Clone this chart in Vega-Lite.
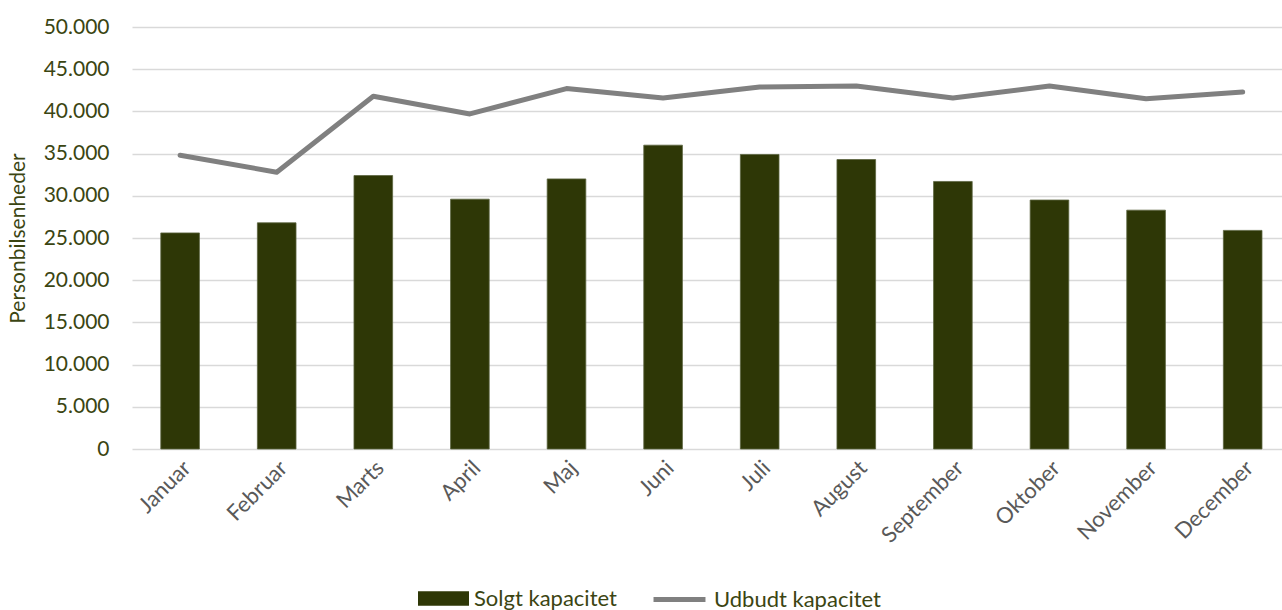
{
  "$schema": "https://vega.github.io/schema/vega-lite/v6.json",
  "autosize": {"type": "none"},
  "width": 1150,
  "height": 422,
  "padding": {"left": 132, "top": 27, "right": 0, "bottom": 161},
  "config": {
    "view": {"stroke": null},
    "font": "Lato",
    "axis": {"labelFont": "Lato", "titleFont": "Lato"},
    "legend": {"labelFont": "Lato", "labelLimit": 400}
  },
  "data": {
    "values": [
      {"month": "Januar", "solgt": 25600, "udbudt": 34800},
      {"month": "Februar", "solgt": 26800, "udbudt": 32800},
      {"month": "Marts", "solgt": 32400, "udbudt": 41800},
      {"month": "April", "solgt": 29600, "udbudt": 39700},
      {"month": "Maj", "solgt": 32000, "udbudt": 42700},
      {"month": "Juni", "solgt": 36000, "udbudt": 41600},
      {"month": "Juli", "solgt": 34900, "udbudt": 42900},
      {"month": "August", "solgt": 34300, "udbudt": 43000},
      {"month": "September", "solgt": 31700, "udbudt": 41600},
      {"month": "Oktober", "solgt": 29500, "udbudt": 43000},
      {"month": "November", "solgt": 28300, "udbudt": 41500},
      {"month": "December", "solgt": 25900, "udbudt": 42300}
    ]
  },
  "encoding": {
    "x": {
      "field": "month",
      "type": "nominal",
      "sort": null,
      "scale": {"paddingInner": 0.6, "paddingOuter": 0.2525, "align": 0.59},
      "axis": {
        "title": null,
        "labelAngle": -45,
        "labelFontSize": 22,
        "labelColor": "#595959",
        "labelPadding": 8,
        "ticks": false,
        "domain": false,
        "grid": false
      }
    }
  },
  "layer": [
    {
      "mark": {"type": "bar", "color": "#2e3706", "stroke": "#5c6440", "strokeWidth": 0.8},
      "encoding": {
        "y": {
          "field": "solgt",
          "type": "quantitative",
          "scale": {"domain": [0, 50000]},
          "axis": {
            "title": "Personbilsenheder",
            "titleFontSize": 21,
            "titleFontWeight": "normal",
            "titleColor": "#3b4512",
            "titleX": -114,
            "titleY": 211,
            "titleAngle": -90,
            "titleAlign": "center",
            "titleBaseline": "middle",
            "values": [0, 5000, 10000, 15000, 20000, 25000, 30000, 35000, 40000, 45000, 50000],
            "labelExpr": "replace(format(datum.value, ',d'), ',', '.')",
            "labelFontSize": 21,
            "labelColor": "#3b4512",
            "labelPadding": 23,
            "ticks": false,
            "domain": false,
            "grid": true,
            "gridColor": "#d9d9d9",
            "gridWidth": 1.5
          }
        },
        "color": {
          "datum": "Solgt kapacitet",
          "scale": {"range": ["#2e3706"]},
          "legend": {
            "title": null,
            "orient": "none",
            "legendX": 286,
            "legendY": 546,
            "padding": 0,
            "symbolType": "M-1,-0.28H1V0.28H-1Z",
            "symbolSize": 2601,
            "symbolStrokeWidth": 0,
            "labelFontSize": 22,
            "labelColor": "#3b4512",
            "labelOffset": 5,
            "labelLimit": 400
          }
        }
      }
    },
    {
      "mark": {"type": "line", "strokeWidth": 5, "strokeCap": "round", "strokeJoin": "round"},
      "encoding": {
        "y": {"field": "udbudt", "type": "quantitative"},
        "stroke": {
          "datum": "Udbudt kapacitet",
          "scale": {"range": ["#808080"]},
          "legend": {
            "title": null,
            "orient": "none",
            "legendX": 519,
            "legendY": 544,
            "padding": 0,
            "symbolType": "stroke",
            "symbolSize": 2700,
            "symbolStrokeWidth": 5,
            "labelFontSize": 22,
            "labelColor": "#3b4512",
            "labelOffset": 6,
            "labelLimit": 400
          }
        }
      }
    }
  ]
}
